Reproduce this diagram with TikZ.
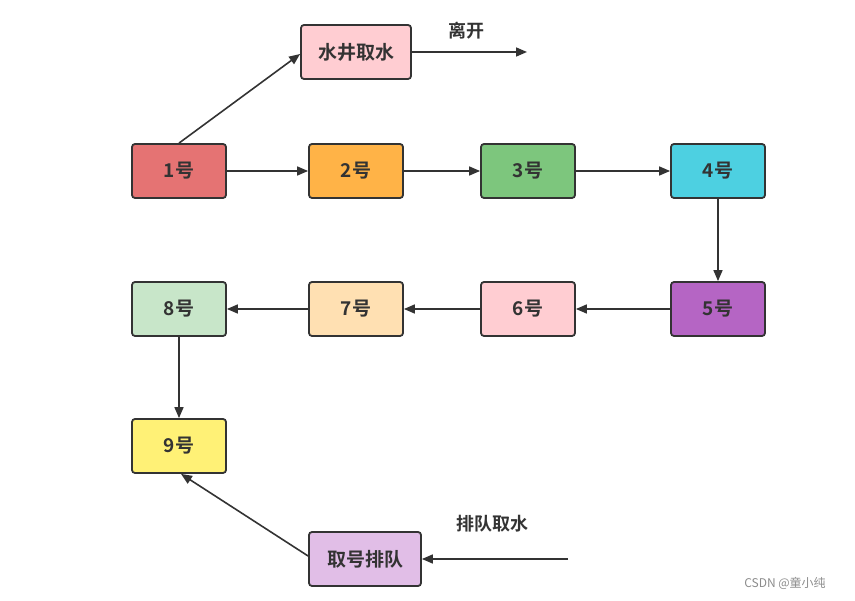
\documentclass[tikz,border=0pt]{standalone}
\usepackage{fontspec}
\newfontfamily\cjk{Noto Sans CJK SC}
\newfontfamily\cjkb{Noto Sans CJK SC Bold}
\usetikzlibrary{arrows.meta}
\definecolor{tx}{HTML}{333333}
\definecolor{c1}{HTML}{E57373}
\definecolor{c2}{HTML}{FFB347}
\definecolor{c3}{HTML}{7DC67D}
\definecolor{c4}{HTML}{4DD0E1}
\definecolor{c5}{HTML}{B565C4}
\definecolor{c6}{HTML}{FFCDD2}
\definecolor{c7}{HTML}{FFE0B2}
\definecolor{c8}{HTML}{C8E6C9}
\definecolor{c9}{HTML}{FFF176}
\definecolor{cq}{HTML}{E1BEE7}
\tikzset{
  box/.style={draw=tx, line width=1.8pt, rounded corners=3pt, minimum width=94pt, minimum height=54pt, inner sep=0pt, font=\cjkb\fontsize{19}{19}\selectfont, text=tx},
  arr/.style={draw=tx, line width=1.6pt, -{Triangle[length=11pt,width=9pt]}},
  lab/.style={font=\cjkb\fontsize{18}{18}\selectfont, text=tx, inner sep=0pt}
}
\begin{document}
\begin{tikzpicture}[x=1pt,y=-1pt]
\useasboundingbox (0,0) rectangle (855,601);
\node[box, fill=c1] (n1) at (179,171) {1号};
\node[box, fill=c2] (n2) at (356,171) {2号};
\node[box, fill=c3] (n3) at (528,171) {3号};
\node[box, fill=c4] (n4) at (718,171) {4号};
\node[box, fill=c5] (n5) at (718,309) {5号};
\node[box, fill=c6] (n6) at (528,309) {6号};
\node[box, fill=c7] (n7) at (356,309) {7号};
\node[box, fill=c8] (n8) at (179,309) {8号};
\node[box, fill=c9] (n9) at (179,446) {9号};
\node[box, fill=c6, minimum width=110pt] (w) at (356,52) {水井取水};
\node[box, fill=cq, minimum width=112pt] (q) at (365,559) {取号排队};
\coordinate (leave) at (527,52);
\coordinate (come) at (568,559);
\node[lab] (l1) at (466,31) {离开};
\node[lab] (l2) at (492,524) {排队取水};
\node[font=\cjk\fontsize{12}{12}\selectfont, text=black!45, inner sep=0pt] (wm) at (785,583) {CSDN @童小纯};
\draw[arr] (n1.north) -- (w.west |- 0,54);
\draw[arr] (w.east) -- (leave);
\draw[arr] (n1) -- (n2);
\draw[arr] (n2) -- (n3);
\draw[arr] (n3) -- (n4);
\draw[arr] (n4) -- (n5);
\draw[arr] (n5) -- (n6);
\draw[arr] (n6) -- (n7);
\draw[arr] (n7) -- (n8);
\draw[arr] (n8) -- (n9);
\draw[arr] (come) -- (q.east);
\draw[arr] (q.west |- 0,556) -- ([xshift=2pt]n9.south);
\end{tikzpicture}
\end{document}
